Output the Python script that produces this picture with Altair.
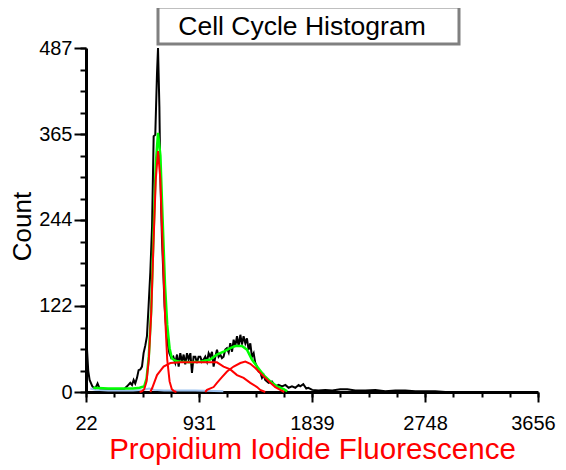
import altair as alt
import pandas as pd

# ---- data ----
black_x = [28, 40, 51, 73, 97, 115, 131, 161, 201, 242, 282, 322, 352, 378, 392, 405, 418, 432, 445, 459,
           472, 485, 499, 512, 525, 539, 553, 566, 579, 593, 601, 612, 619, 633, 654, 673, 692, 708, 724, 740,
           754, 767, 780, 794, 807, 820, 834, 847, 861, 874, 887, 901, 914, 927, 941, 954, 968, 981, 995, 1008,
           1021, 1035, 1048, 1062, 1075, 1088, 1102, 1115, 1128, 1142, 1155, 1169, 1182, 1196, 1209, 1222, 1236,
           1249, 1263, 1276, 1289, 1303, 1316, 1329, 1343, 1356, 1370, 1383, 1397, 1410, 1423, 1437, 1450, 1463,
           1490, 1517, 1544, 1571, 1598, 1625, 1651, 1678, 1705, 1731, 1745, 1769, 1793, 1809, 1841, 1890, 1946,
           2002, 2066, 2123, 2187, 2268, 2348, 2428, 2509, 2589, 2669, 2750, 2830, 2911, 3000, 3200, 3400, 3656]
black_y = [67, 30, 17, 8, 5, 12, 5, 3, 4, 3, 4, 3, 8, 13, 10, 17, 12, 20, 31, 32,
           36, 55, 66, 79, 121, 169, 234, 362, 364, 452, 487, 404, 310, 216, 121, 74, 55, 48, 50, 41,
           53, 36, 55, 43, 53, 39, 55, 46, 55, 27, 50, 50, 41, 50, 50, 43, 46, 50, 43, 55,
           50, 57, 36, 50, 60, 50, 53, 48, 50, 60, 62, 56, 69, 57, 74, 65, 79,
           65, 81, 67, 79, 69, 76, 60, 69, 50, 55, 41, 36, 29, 28, 20, 24, 17,
           13, 15, 8, 10, 8, 10, 6, 8, 6, 10, 8, 11, 5, 6, 3, 2, 3,
           2, 4, 4, 2, 2, 3, 1, 2, 2, 1, 1, 1, 0, 0, 0, 0, 0]

green_x = [80, 200, 300, 400, 453, 472, 490, 509, 527, 546, 564, 583, 601, 620, 638, 657, 675, 694, 712, 731,
           749, 780, 861, 941, 1021, 1075, 1128, 1182, 1222, 1276, 1316, 1356, 1397, 1450, 1504, 1557, 1611, 1640]
green_y = [6, 5, 5, 5, 6, 7, 8, 19, 50, 115, 219, 322, 367, 335, 245, 152, 95, 62, 48, 45,
           44, 43, 42, 43, 46, 53, 57, 62, 65, 65, 60, 46, 36, 24, 15, 8, 4, 1]

g1_x = [453, 472, 490, 509, 527, 546, 564, 583, 601, 620, 638, 657, 675, 694, 712, 731, 749]
g1_y = [0, 1, 4, 15, 46, 111, 207, 301, 341, 301, 207, 111, 46, 15, 4, 1, 0]

s_x = [539, 555, 593, 619, 646, 700, 780, 941, 1075, 1128, 1182, 1236, 1289, 1343, 1397, 1423, 1463]
s_y = [0, 6, 24, 30, 36, 41, 42, 42, 42, 36, 32, 24, 20, 13, 7, 3, 0]

g2_x = [981, 995, 1048, 1075, 1115, 1156, 1209, 1263, 1303, 1343, 1383, 1423, 1463, 1504, 1544, 1584, 1616]
g2_y = [0, 3, 7, 13, 21, 29, 36, 41, 43, 40, 34, 27, 20, 13, 7, 3, 0]

debris_x = [57, 97, 200, 400, 480, 530, 570, 650, 900, 1126]
debris_y = [5, 3, 2, 2, 3, 5, 3, 2, 2, 1]

x_ticks = [22, 931, 1839, 2748, 3656]
y_ticks = [0, 122, 244, 365, 487]
x_minor = [22 + k * 227.125 for k in range(17)]
y_minor = [k * 30.4375 for k in range(17)]

title_text = "Cell Cycle Histogram"
x_title = "Propidium Iodide Fluorescence"
y_title = "Count"

FONT = "Liberation Sans"

black_df = pd.DataFrame({"x": black_x, "c": black_y})
green_df = pd.DataFrame({"x": green_x, "c": green_y})
red_df = pd.concat([
    pd.DataFrame({"x": g1_x, "c": g1_y, "comp": "G1"}),
    pd.DataFrame({"x": s_x, "c": s_y, "comp": "S"}),
    pd.DataFrame({"x": g2_x, "c": g2_y, "comp": "G2"}),
])
debris_df = pd.DataFrame({"x": debris_x, "c": debris_y})

xs = alt.Scale(domain=[22, 3656], nice=False, zero=False)
ys = alt.Scale(domain=[0, 487], nice=False, zero=False)

main_x_axis = alt.Axis(values=x_ticks, format="d", title=x_title, grid=False, domainColor="black",
                       domainWidth=3, tickColor="black", tickWidth=2, tickSize=10, labelPadding=11,
                       labelFont=FONT, labelFontSize=20, labelColor="black", labelFlush=False,
                       labelOffset={"condition": {"test": "datum.value >= 3656", "value": -5}, "value": 0},
                       labelOverlap=False, titleFont=FONT, titleFontSize=29.5, titleFontWeight="normal",
                       titleColor="#ff0000", titleX=226, titleY=66, titleBaseline="alphabetic",
                       titleAlign="center", orient="bottom")
main_y_axis = alt.Axis(values=y_ticks, format="d", title=y_title, grid=False, domainColor="black",
                       domainWidth=3, tickColor="black", tickWidth=2, tickSize=12, labelPadding=2,
                       labelFont=FONT, labelFontSize=20, labelColor="black", labelFlush=False,
                       labelOverlap=False, titleFont=FONT, titleFontSize=26, titleFontWeight="normal",
                       titleColor="black", titleAngle=270, titleX=-56, titleY=178,
                       titleBaseline="alphabetic", titleAlign="center", orient="left")
minor_x_axis = alt.Axis(values=x_minor, title=None, grid=False, domain=False, labels=False,
                        tickColor="black", tickWidth=2, tickSize=5, orient="bottom")
minor_y_axis = alt.Axis(values=y_minor, title=None, grid=False, domain=False, labels=False,
                        tickColor="black", tickWidth=2, tickSize=6, orient="left")

black = alt.Chart(black_df).mark_line(color="black", strokeWidth=2).encode(
    x=alt.X("x:Q", scale=xs, axis=main_x_axis),
    y=alt.Y("c:Q", scale=ys, axis=main_y_axis),
)
debris = alt.Chart(debris_df).mark_line(color="#9ec3f0", strokeWidth=2).encode(
    x=alt.X("x:Q", scale=xs, axis=minor_x_axis),
    y=alt.Y("c:Q", scale=ys, axis=minor_y_axis),
)
green = alt.Chart(green_df).mark_line(color="#00ff00", strokeWidth=2.5).encode(
    x=alt.X("x:Q", scale=xs, axis=None),
    y=alt.Y("c:Q", scale=ys, axis=None),
)
red = alt.Chart(red_df).mark_line(color="#ff0000", strokeWidth=2).encode(
    x=alt.X("x:Q", scale=xs, axis=None),
    y=alt.Y("c:Q", scale=ys, axis=None),
    detail="comp:N",
)

box_df = pd.DataFrame({"t": [title_text]})
box = alt.Chart(box_df).mark_rect(fill="white", stroke="#808080", strokeWidth=3).encode(
    x=alt.value(72), x2=alt.value(373), y=alt.value(-41), y2=alt.value(-4)
)
box_text = alt.Chart(box_df).mark_text(font=FONT, fontSize=26.5, color="black", align="center",
                                       baseline="alphabetic").encode(
    text="t:N", x=alt.value(216), y=alt.value(-13)
)

chart = alt.layer(black, debris, green, red, box, box_text).resolve_axis(
    x="independent", y="independent"
).properties(
    width=452, height=344,
    autosize=alt.AutoSizeParams(type="none"),
    padding={"left": 78, "top": 40, "right": 20, "bottom": 78},
).configure_view(stroke=None)

chart.save("out.html", embed_options={"renderer": "svg", "actions": False})
